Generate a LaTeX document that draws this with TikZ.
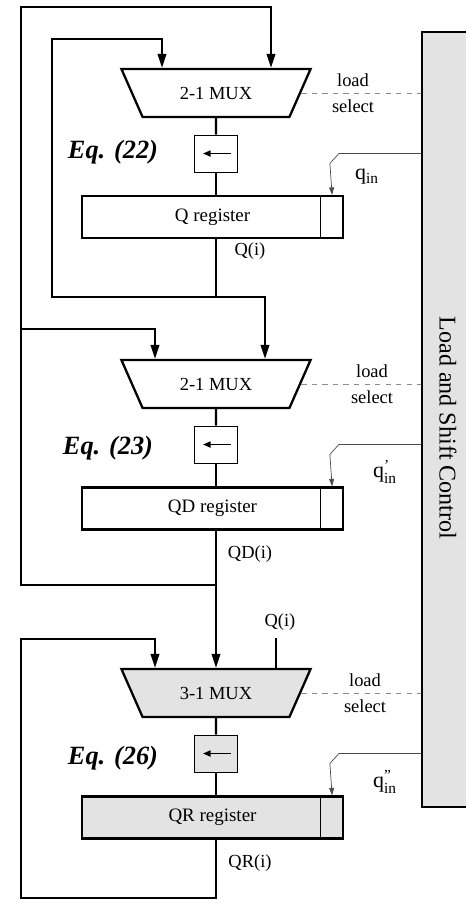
\documentclass[tikz,border=0pt]{standalone}
\usepackage{amsmath}
\usepackage{fontspec}
\setmainfont{Liberation Serif}
\usetikzlibrary{shapes.geometric,arrows.meta,calc}

\begin{document}
\begin{tikzpicture}[x=0.02cm,y=-0.02cm,
  wire/.style={line width=1.3pt},
  arr/.style={-{Triangle[length=0.28cm,width=0.17cm]}},
  mux/.style={trapezium,shape border rotate=180,trapezium angle=50,
    trapezium stretches=true,draw,line width=1.3pt,fill=#1,
    minimum width=3.8cm,minimum height=0.96cm,inner sep=0pt,
    font=\fontsize{10.5}{12}\selectfont},
  shiftbox/.style={rectangle,draw,line width=0.5pt,fill=#1,
    minimum width=0.86cm,minimum height=0.74cm,inner sep=0pt},
  reg/.style={rectangle,draw,line width=1.3pt,fill=#1,
    minimum width=5.22cm,minimum height=0.84cm,inner sep=0pt,
    font=\fontsize{10.8}{12}\selectfont},
  eqlbl/.style={font=\fontsize{15}{18}\selectfont\bfseries\itshape,inner sep=0pt},
  lbl/.style={font=\fontsize{10.5}{12}\selectfont,inner sep=0pt},
  sig/.style={line width=0.4pt,black!70,-{Triangle[length=0.15cm,width=0.1cm]}},
  sel/.style={line width=0.5pt,black!45,dashed}
]
\useasboundingbox (0,0) rectangle (466,923);
\colorlet{shade}{black!11}

% Control unit
\node[draw,line width=1.3pt,fill=shade,minimum width=1.6cm,minimum height=15.5cm]
  (ctl) at (462,419.5) {};
\node[rotate=-90,font=\fontsize{13.7}{16}\selectfont] (ctltxt) at (448,428) {Load and Shift Control};

% Q stage
\node[mux=white]      (mux1) at (216,93)    {2-1 MUX};
\node[shiftbox=white] (sh1)  at (216,153.5) {};
\node[reg=white]      (qreg) at (212.5,217) {Q register};
\node[eqlbl] (eq1) at (113,152) {Eq. (22)};

% QD stage
\node[mux=white]      (mux2)  at (216,384)    {2-1 MUX};
\node[shiftbox=white] (sh2)   at (216,444.5)  {};
\node[reg=white]      (qdreg) at (212.5,508.5) {QD register};
\node[eqlbl] (eq2) at (108,448) {Eq. (23)};

% QR stage
\node[mux=shade]      (mux3)  at (216,693)    {3-1 MUX};
\node[shiftbox=shade] (sh3)   at (216,753.5)  {};
\node[reg=shade]      (qrreg) at (212.5,817.5) {QR register};
\node[eqlbl] (eq3) at (113,758) {Eq. (26)};

% compartments and shift arrows
\foreach \r in {qreg,qdreg,qrreg}
  \draw[line width=0.5pt] ($(\r.north east)+(-24,0)$) -- ($(\r.south east)+(-24,0)$);
\foreach \s in {sh1,sh2,sh3}
  \draw[line width=0.9pt,-{Triangle[length=0.15cm,width=0.12cm]}]
    ($(\s.center)+(15,0)$) -- ($(\s.center)+(-13,0)$);

% mux inputs
\coordinate (m1a) at ($(mux1.north)+(-54,0)$);
\coordinate (m1b) at ($(mux1.north)+(55,0)$);
\coordinate (m2a) at ($(mux2.north)+(-61,0)$);
\coordinate (m2b) at ($(mux2.north)+(49,0)$);
\coordinate (m3a) at ($(mux3.north)+(-61,0)$);
\coordinate (m3c) at ($(mux3.north)+(60,0)$);

% data path
\draw[wire] (mux1.south) -- (sh1.north);
\draw[wire] (sh1.south) -- (sh1.south |- qreg.north);
\draw[wire] (mux2.south) -- (sh2.north);
\draw[wire] (sh2.south) -- (sh2.south |- qdreg.north);
\draw[wire] (mux3.south) -- (sh3.north);
\draw[wire] (sh3.south) -- (sh3.south |- qrreg.north);

\draw[wire] (qreg.south -| sh1.south) -- ++(0,58) coordinate (jq);
\draw[wire,arr] (jq) -| (52,39) -| (m1a);
\draw[wire,arr] (jq) -| (m2b);

\draw[wire] (qdreg.south -| sh2.south) -- ++(0,54.5) coordinate (jqd);
\draw[wire,arr] (jqd) -| (21,7) -| (m1b);
\coordinate (tap) at (21,329);
\draw[wire,arr] (tap) -| (m2a);
\draw[wire,arr] (jqd) -- (jqd |- mux3.north);

\draw[wire,arr] (qrreg.south -| sh3.south) -- ++(0,58.5) -| (21,639) -| (m3a);
\draw[wire] (m3c) -- ++(0,-30);

% labels
\node[lbl] (qout)  at (250,251) {Q(i)};
\node[lbl] (qdout) at (250,554) {QD(i)};
\node[lbl] (qrout) at (250,863) {QR(i)};
\node[lbl] (qin3)  at (280,622) {Q(i)};

% select lines
\draw[sel] (mux1.east) -- (mux1.east -| ctl.west);
\draw[sel] (mux2.east) -- (mux2.east -| ctl.west);
\draw[sel] (mux3.east) -- (mux3.east -| ctl.west);
\node[lbl] (ld1) at (353,80)  {load};
\node[lbl] (sl1) at (353,106) {select};
\node[lbl] (ld2) at (372,371) {load};
\node[lbl] (sl2) at (372,397) {select};
\node[lbl] (ld3) at (365,680) {load};
\node[lbl] (sl3) at (365,706) {select};

% serial inputs
\draw[sig] (ctl.west |- sh1) -- ++(-82,0) -- ++(-9,10) -- ($(qreg.north east)+(-12,0)$);
\draw[sig] (ctl.west |- sh2) -- ++(-82,0) -- ++(-9,10) -- ($(qdreg.north east)+(-12,0)$);
\draw[sig] (ctl.west |- sh3) -- ++(-82,0) -- ++(-9,10) -- ($(qrreg.north east)+(-12,0)$);
\node[lbl,font=\fontsize{12.5}{14}\selectfont] (qin)   at (367,177) {q$_{\text{in}}$};
\node[lbl,font=\fontsize{12.5}{14}\selectfont] (qdin)  at (385,472) {q$^{\text{'}}_{\text{in}}$};
\node[lbl,font=\fontsize{12.5}{14}\selectfont] (qrin)  at (385,782) {q$^{\text{''}}_{\text{in}}$};
\end{tikzpicture}
\end{document}
